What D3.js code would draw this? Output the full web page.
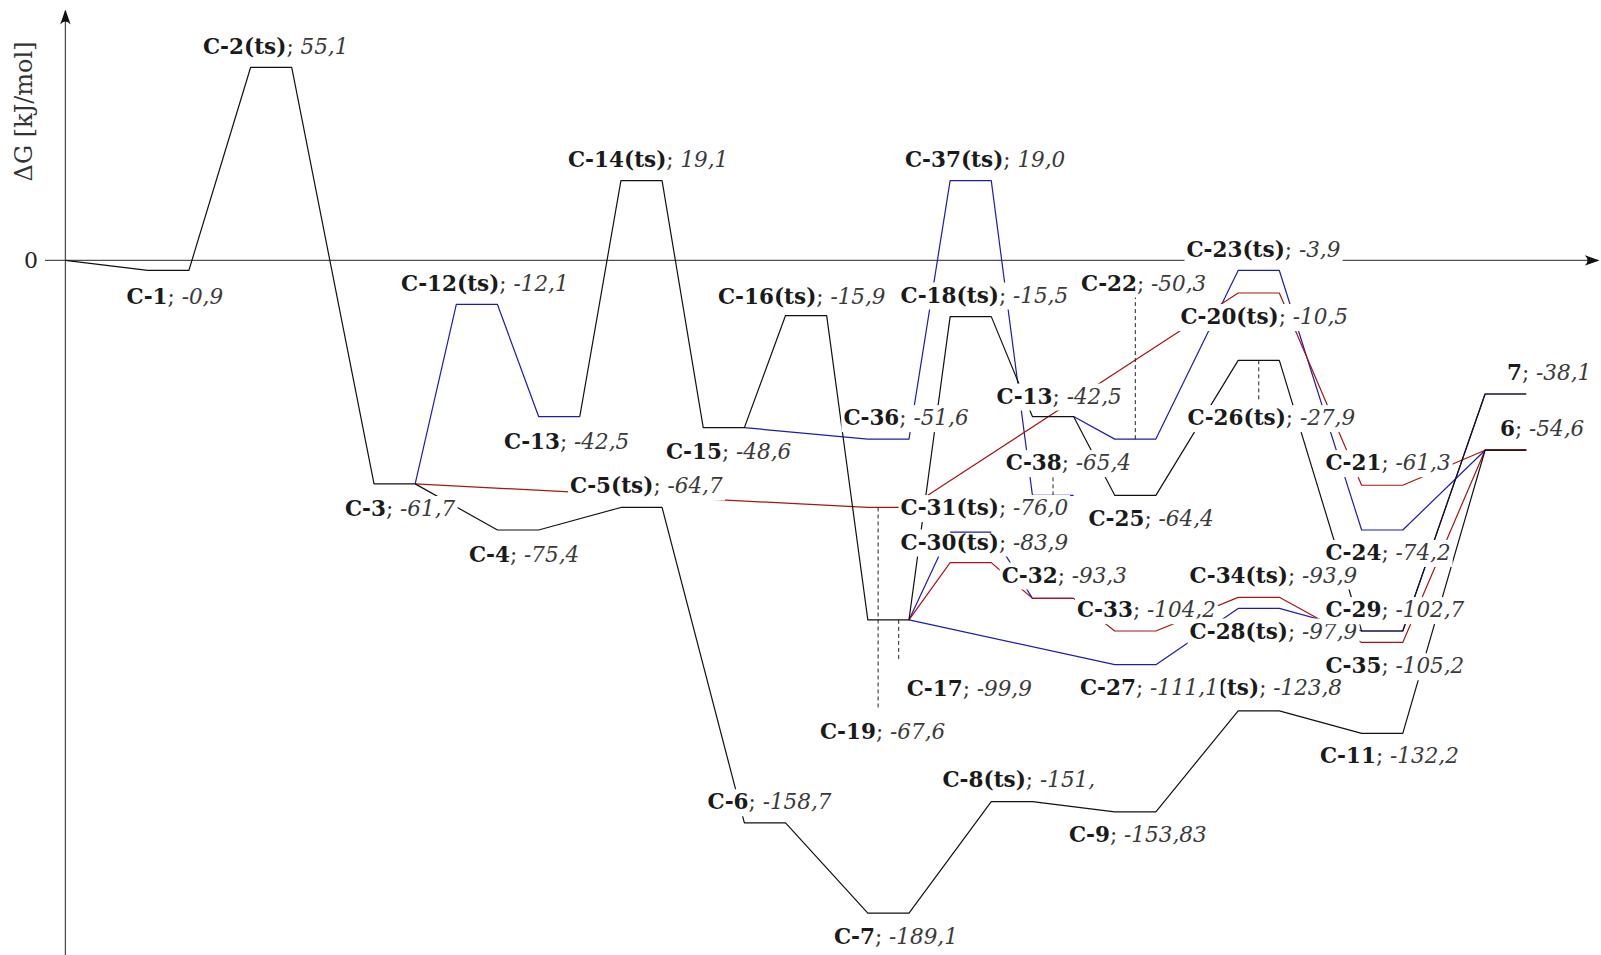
<!DOCTYPE html>
<html><head><meta charset="utf-8">
<script src="https://cdn.jsdelivr.net/npm/d3@7"></script>
<style>
html,body{margin:0;padding:0;background:#fff;}
svg{display:block;}
text{font-family:"DejaVu Serif",serif;}
</style></head><body>
<svg id="c" width="1601" height="955"></svg>
<script>
// ---- data: states [key, column slot, drawn energy level] ----
const levels = [
  ["O",0,0],["C1",2,-2.9],["C2",4.5,55.6],["C3",7.5,-64.4],["C12",9.5,-12.7],["C4",10.5,-77.7],
  ["C13a",11.5,-45.0],["C14",13.5,23.0],["C5",13.5,-71.2],["C15",15.5,-48.2],["C6",16.5,-162.1],
  ["C16",17.5,-15.9],["C36",19.5,-51.5],["C17",19.5,-103.6],["C19",19.5,-71.2],["C7",19.5,-188.1],
  ["C37",21.5,23.0],["C18",21.5,-16.2],["C30b",21.5,-78.3],["C30r",21.5,-87.1],["C8",22.5,-156.0],
  ["C13b",23.5,-45.0],["C38",23.5,-67.7],["C32",23.5,-97.4],["C22",25.5,-51.5],["C25",25.5,-67.7],
  ["C33",25.5,-106.8],["C27",25.5,-116.5],["C9",25.5,-158.9],["C23",28.5,-2.9],["C20",28.5,-9.4],
  ["C26",28.5,-28.8],["C34",28.5,-97.1],["C28",28.5,-100.3],["C10",28.5,-129.8],["C21",31.5,-64.8],
  ["C21b",31.5,-77.7],["C24",31.5,-106.8],["C29",31.5,-106.8],["C35",31.5,-110.1],["C11",31.5,-136.3],
  ["P6",34.5,-54.7],["P7",34.5,-38.5]
];
// ---- data: reaction paths ----
const pathColors = ["blue","blue","blue","blue","blue","red","red","black","black"];
const pathRoutes = [
  ["C3","C12","C13a"],
  ["C15","C36","C37","C38"],
  ["C13b","C22","C23","C21b","P6"],
  ["C17","C30b","C32"],
  ["C17","C27","C28","C29","P7"],
  ["C3","C19","C20","C21","P6"],
  ["C17","C30r","C32","C33","C34","C35","P6"],
  ["O","C1","C2","C3","C4","C5","C6","C7","C8","C9","C10","C11","P6"],
  ["C13a","C14","C15","C16","C17","C18","C13b","C25","C26","C24","P7"]
];
// ---- data: labels ----
const labelNames = ["C-1","C-2(ts)","C-12(ts)","C-14(ts)","C-13","C-3","C-5(ts)","C-4","C-15","C-16(ts)",
  "C-37(ts)","C-18(ts)","C-36","C-13","C-22","C-23(ts)","C-20(ts)","C-26(ts)","C-38","C-25",
  "C-31(ts)","C-30(ts)","C-32","C-33","C-34(ts)","C-28(ts)","C-29","C-35","C-21","C-24",
  "7","6","C-17","C-19","C-10(ts)","C-27","C-11","C-6","C-7","C-8(ts)","C-9"];
const labelValues = ["-0,9","55,1","-12,1","19,1","-42,5","-61,7","-64,7","-75,4","-48,6","-15,9",
  "19,0","-15,5","-51,6","-42,5","-50,3","-3,9","-10,5","-27,9","-65,4","-64,4",
  "-76,0","-83,9","-93,3","-104,2","-93,9","-97,9","-102,7","-105,2","-61,3","-74,2",
  "-38,1","-54,6","-99,9","-67,6","-123,8","-111,1","-132,2","-158,7","-189,1","-151,","-153,83"];
// dashed guides: [level key, offset within level, energy of other end]
const dashedGuides = [["C19",0.25,-129.6],["C17",0.75,-115.7],["C38",0.5,-58.8],["C22",0.5,-4.9],["C26",0.5,-40.9]];
const yTicks = [0];
const yTitle = "\u0394G [kJ/mol]";

// ---- layout (label anchors in data units: column, energy) ----
const labelAt = [[1.487,-10.26],[3.344,61.79],[8.156,-6.51],[12.214,29.11],[10.659,-52.05],[6.795,-71.5],
  [12.263,-65.0],[9.808,-84.75],[14.595,-54.93],[15.859,-10.26],[20.403,29.11],[20.296,-9.97],[18.906,-45.3],
  [22.629,-39.08],[24.681,-6.51],[27.244,3.29],[27.096,-16.17],[27.269,-45.3],[22.853,-58.27],[24.863,-74.44],
  [20.296,-71.21],[20.296,-81.15],[22.753,-90.66],[24.583,-100.63],[27.32,-90.66],[27.32,-106.8],[30.62,-100.63],
  [30.62,-116.8],[30.62,-58.27],[30.62,-84.15],[35.033,-32.36],[34.862,-48.56],[20.445,-123.5],[18.338,-135.9],
  [26.62,-123.2],[24.654,-123.2],[30.488,-142.7],[15.606,-156.0],[18.678,-194.7],[21.314,-149.5],[24.389,-165.3]];
const onTopLevels = ["C30b"];

const colorMap = {black:"#111111", blue:"#1c1cae", red:"#a81414"};
const W = 1601, H = 955;
const x = d3.scaleLinear().domain([0, 34.5]).range([65.4, 65.4 + 34.5*41.15]);
const y = d3.scaleLinear().domain([0, -100]).range([260.4, 607.4]);
const svg = d3.select("#c");

const lv = {};
levels.forEach(([k,s,e]) => lv[k] = {s, e, w: k === "O" ? 0 : 1});
const startPt = k => [x(lv[k].s), y(lv[k].e)];
const endPt = k => [x(lv[k].s + lv[k].w), y(lv[k].e)];

// axes
const axisColor = "#505050";
svg.append("defs").append("marker").attr("id","arr").attr("viewBox","0 0 10 10")
  .attr("refX",9).attr("refY",5).attr("markerWidth",15).attr("markerHeight",15)
  .attr("markerUnits","userSpaceOnUse").attr("orient","auto")
  .append("path").attr("d","M0,1.5 Q4,5 0,8.5 L10,5 Z").attr("fill","#111");
svg.append("line").attr("x1",45).attr("x2",1598).attr("y1",y(0)).attr("y2",y(0))
  .attr("stroke",axisColor).attr("stroke-width",1.3).attr("marker-end","url(#arr)");
svg.append("line").attr("x1",x(0)).attr("x2",x(0)).attr("y1",H).attr("y2",11)
  .attr("stroke",axisColor).attr("stroke-width",1.3).attr("marker-end","url(#arr)");
svg.selectAll("text.tick").data(yTicks).enter().append("text").attr("class","tick")
  .attr("x",38).attr("y",d=>y(d)).attr("dy","0.35em").attr("text-anchor","end")
  .attr("font-size",22).attr("fill","#222").text(d=>d);
svg.append("text").attr("transform",`translate(32,${y(0)-149}) rotate(-90)`)
  .attr("text-anchor","middle").attr("font-size",24).attr("fill","#333").text(yTitle);

// reaction paths
const lineGen = d3.line();
pathRoutes.forEach((route, i) => {
  const pts = [endPt(route[0])];
  route.slice(1).forEach(k => { pts.push(startPt(k)); pts.push(endPt(k)); });
  svg.append("path").attr("d", lineGen(pts)).attr("fill","none")
    .attr("stroke", colorMap[pathColors[i]]).attr("stroke-width",1.2).attr("stroke-linejoin","round");
});

// dashed guides
dashedGuides.forEach(([k,off,e2]) => {
  const xx = x(lv[k].s + off);
  svg.append("line").attr("x1",xx).attr("x2",xx).attr("y1",y(lv[k].e)).attr("y2",y(e2))
    .attr("stroke","#222").attr("stroke-width",1).attr("stroke-dasharray","4,3");
});

// labels with white boxes
labelNames.forEach((name, i) => {
  const [u, e] = labelAt[i];
  const g = svg.append("g");
  const rect = g.append("rect").attr("fill","#fff");
  const t = g.append("text").attr("x", x(u)).attr("y", y(e)).attr("dy","0.35em")
    .attr("font-size",21.5).style("white-space","pre");
  t.append("tspan").attr("font-weight","bold").attr("fill","#1a1a1a").text(name);
  t.append("tspan").attr("fill","#333").text("; ");
  t.append("tspan").attr("font-style","italic").attr("fill","#3a3a3a").text(labelValues[i]);
  const b = t.node().getBBox();
  rect.attr("x", b.x-2).attr("y", b.y).attr("width", b.width+4).attr("height", b.height+2);
});

// level segments drawn above labels
onTopLevels.forEach(k => {
  const i = pathRoutes.findIndex(r => r.includes(k));
  svg.append("path").attr("d", lineGen([startPt(k), endPt(k)]))
    .attr("stroke", colorMap[pathColors[i]]).attr("stroke-width",1.2);
});
</script>
</body></html>
